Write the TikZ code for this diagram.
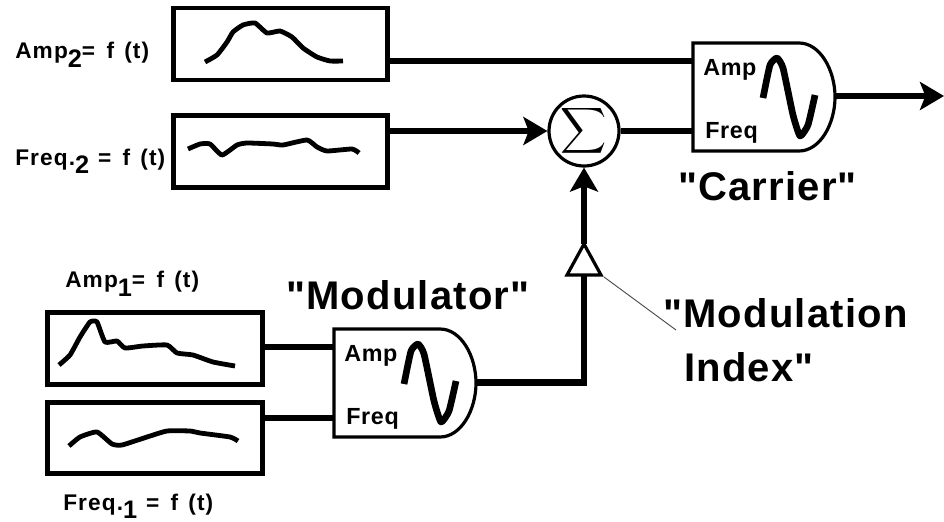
\documentclass[tikz,border=0pt]{standalone}
\usepackage{fontspec}
\setmainfont{Liberation Sans}[Ligatures=TeXOff]
\usetikzlibrary{arrows.meta}
\newcommand{\subdig}[2]{\raisebox{-#2pt}{\fontsize{19}{19}\selectfont #1}}
\newcommand{\fot}{f\hspace{2pt} (t)}
\tikzset{
  x=0.75pt,y=-0.75pt,
  box/.style={draw=black,line width=3.6pt,fill=white,inner sep=0pt,outer sep=0pt},
  wave/.style={line width=3.6pt,line join=round,line cap=butt,smooth,tension=0.3},
  lbl/.style={inner sep=0pt,anchor=base west,font=\fontsize{17}{20}\selectfont\bfseries\addfontfeatures{LetterSpace=5}},
  big/.style={inner sep=0pt,anchor=base west,font=\fontsize{30}{34}\selectfont\bfseries\addfontfeatures{LetterSpace=3}},
  gatelbl/.style={inner sep=0pt,anchor=base west,font=\fontsize{17.5}{20}\selectfont\bfseries\addfontfeatures{LetterSpace=3}},
  wire/.style={line width=4.7pt},
  thin wire/.style={line width=3.8pt},
  tip/.style={-{Stealth[length=18pt,width=21pt,inset=4pt]}},
  pics/gate/.style={code={
    \draw[line width=2.4pt,fill=white] (0,0) -- (106,0) .. controls (127,0) and (142,27) .. (142,54)
      .. controls (142,81) and (127,108) .. (106,108) -- (0,108) -- cycle;
    \coordinate (-amp) at (0,18);
    \coordinate (-freq) at (0,89);
    \coordinate (-out) at (142,53);
    \node[gatelbl] (-a) at (10,32) {Amp};
    \node[gatelbl] (-f) at (12,95) {Freq};
    \draw[line width=5pt,line join=round] plot[smooth,tension=0.3] coordinates
      {(70,55) (77,22) (84,15) (90,25) (100,72) (107,93) (115,82) (122,52)};
  }}
}
\begin{document}
\begin{tikzpicture}
\useasboundingbox (0,0) rectangle (944,521);
\fill[white] (0,0) rectangle (944,521);
% boxes
\node[box,minimum width=161pt,minimum height=54pt] (amp2) at (280.5,44) {};
\node[box,minimum width=161pt,minimum height=54pt] (freq2) at (280.5,151.5) {};
\node[box,minimum width=161pt,minimum height=54pt] (amp1) at (155,348.5) {};
\node[box,minimum width=161pt,minimum height=53pt] (freq1) at (155,438) {};
% envelopes
\draw[wave] plot coordinates {(205,62) (217,55) (227,42) (233,32) (243,25) (255,23) (267,33) (280,31) (292,37) (303,48) (317,57) (330,61) (343,61)};
\draw[wave] plot coordinates {(188,149) (200,144) (210,144) (222,155) (237,145) (247,143) (273,144) (283,145) (307,140) (317,147) (327,151) (352,149) (359,153)};
\draw[wave] plot coordinates {(59,365) (70,355) (80,337) (90,322) (97,322) (105,342) (117,341) (125,348) (143,346) (167,345) (177,353) (193,355) (213,362) (235,366)};
\draw[wave] plot coordinates {(69,446) (80,437) (97,432) (112,444) (122,445) (147,437) (167,431) (190,431) (200,433) (230,437) (238,441)};
% gates
\pic (car) at (693,43) {gate};
\pic (mod) at (334,329) {gate};
% summer
\node[circle,draw,line width=2.4pt,fill=white,minimum size=52.5pt,inner sep=0pt] (sum) at (584,131) {\scalebox{2.4}{$\displaystyle\sum$}};
% gain
\coordinate (gaintop) at (584,244);
\coordinate (gainbot) at (584,275);
\draw[line width=2.4pt,fill=white,line join=miter] (gaintop) -- (601,275) -- (567,275) -- cycle;
\coordinate (leaderA) at (604,277);
\coordinate (leaderB) at (676,330);
\coordinate (modcorner) at (584,382.5);
% connectors
\draw[wire] (amp2.east |- 0,61) -- (car-amp);
\draw[thin wire,tip] (freq2.east |- sum.west) -- (sum.west);
\draw[wire] (sum.east) -- (car-freq |- sum.east);
\draw[wire,tip] (car-out) -- (944,96);
\draw[thin wire,tip] (gaintop) -- (sum.south);
\draw[wire] (amp1.east |- 0,347) -- (mod-amp);
\draw[wire] (freq1.east |- 0,418) -- (mod-freq);
\draw[wire,line join=miter] (mod-out |- modcorner) -- (modcorner) -- (gainbot);
\draw[line width=0.7pt,black!70] (leaderA) -- (leaderB);
% labels
\node[lbl] at (15,58) {Amp\subdig{2}{7}= \hspace{3pt}\fot};
\node[lbl] at (15,165) {Freq.\subdig{2}{6} \hspace{1pt}= \hspace{3pt}\fot};
\node[lbl] at (65,287) {Amp\subdig{1}{7}= \hspace{3pt}\fot};
\node[lbl] at (63,510) {Freq.\subdig{1}{6} \hspace{1pt}= \hspace{3pt}\fot};
\node[big] at (678,200) {"Carrier"};
\node[big] at (286,309) {"Modulator"};
\node[big] at (663,327) {"Modulation};
\node[big] at (684,381) {Index"};
\end{tikzpicture}
\end{document}
